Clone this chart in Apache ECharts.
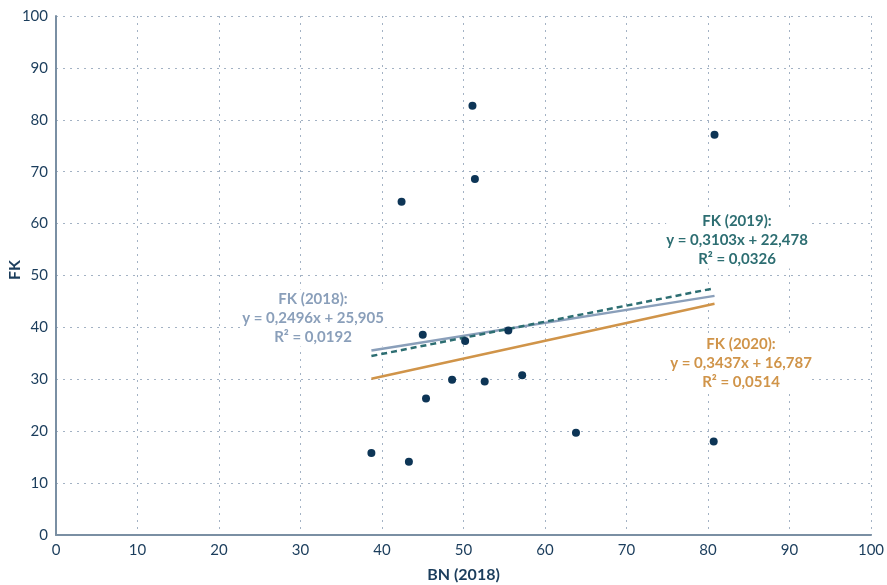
<!DOCTYPE html>
<html><head><meta charset="utf-8">
<script src="https://cdn.jsdelivr.net/npm/echarts@6/dist/echarts.min.js"></script>
<style>html,body{margin:0;padding:0;background:#fff}#c{width:887px;height:585px}</style>
</head><body><div id="c"></div>
<script>
const bnX = [38.7, 43.3, 42.4, 45.0, 45.4, 48.6, 50.2, 51.1, 51.4, 52.6, 55.5, 57.2, 63.8, 80.8, 80.7];
const fkY = [15.8, 14.1, 64.2, 38.6, 26.3, 29.9, 37.4, 82.7, 68.6, 29.6, 39.4, 30.8, 19.7, 77.1, 18.0];
const trends = [
  {name: 'FK (2018)', a: 0.2496, b: 25.905, r2: '0,0192', eq: 'y = 0,2496x + 25,905'},
  {name: 'FK (2019)', a: 0.3103, b: 22.478, r2: '0,0326', eq: 'y = 0,3103x + 22,478'},
  {name: 'FK (2020)', a: 0.3437, b: 16.787, r2: '0,0514', eq: 'y = 0,3437x + 16,787'}
];
const colors = ['#8a9fba', '#2d6e72', '#d09449'];
const lineTypes = ['solid', [6, 4], 'solid'];
const labelPos = [[313, 318], [737, 240], [741, 363]];

const xMin = Math.min(...bnX), xMax = Math.max(...bnX);
const font = 'Lato, "Noto Sans", sans-serif';
const chart = echarts.init(document.getElementById('c'));
const series = [{
  type: 'scatter', data: bnX.map((x, i) => [x, fkY[i]]), symbolSize: 8,
  itemStyle: {color: '#0d3556', opacity: 1}, z: 5
}];
trends.forEach((t, i) => {
  series.push({
    type: 'line', data: [[xMin, t.a * xMin + t.b], [xMax, t.a * xMax + t.b]],
    symbol: 'none', lineStyle: {color: colors[i], width: 2.5, type: lineTypes[i]}, z: 3
  });
});
const graphics = trends.map((t, i) => ({
  type: 'text', x: labelPos[i][0], y: labelPos[i][1], z: 1,
  style: {
    text: t.name + ':\n' + t.eq + '\nR² = ' + t.r2,
    fill: colors[i], font: 'bold 15px ' + font, align: 'center', verticalAlign: 'middle',
    lineHeight: 19, backgroundColor: '#fff'
  }
}));
graphics.push({
  type: 'text', x: 15, y: 270, rotation: Math.PI / 2,
  style: {text: 'FK', fill: '#1b3d5c', font: 'bold 16px ' + font, align: 'center', verticalAlign: 'middle'}
});
chart.setOption({
  animation: false,
  grid: {left: 56, right: 16, top: 16, bottom: 50, containLabel: false, outerBoundsMode: 'none'},
  xAxis: {
    type: 'value', min: 0, max: 100, interval: 10,
    name: 'BN (2018)', nameLocation: 'middle', nameGap: 32,
    nameTextStyle: {color: '#1b3d5c', fontSize: 16, fontWeight: 'bold', fontFamily: font},
    axisLine: {lineStyle: {color: '#7a8fa3', width: 2}},
    axisTick: {show: false},
    axisLabel: {color: '#1b3d5c', fontSize: 15, fontFamily: font, margin: 8},
    splitLine: {show: true, lineStyle: {color: '#a3b2c4', type: [2, 5], width: 1}}
  },
  yAxis: {
    type: 'value', min: 0, max: 100, interval: 10,
    axisLine: {show: true, lineStyle: {color: '#7a8fa3', width: 2}},
    axisTick: {show: false},
    axisLabel: {color: '#1b3d5c', fontSize: 15, fontFamily: font, margin: 8},
    splitLine: {show: true, lineStyle: {color: '#a3b2c4', type: [2, 5], width: 1}}
  },
  graphic: graphics,
  series: series
});
</script></body></html>
